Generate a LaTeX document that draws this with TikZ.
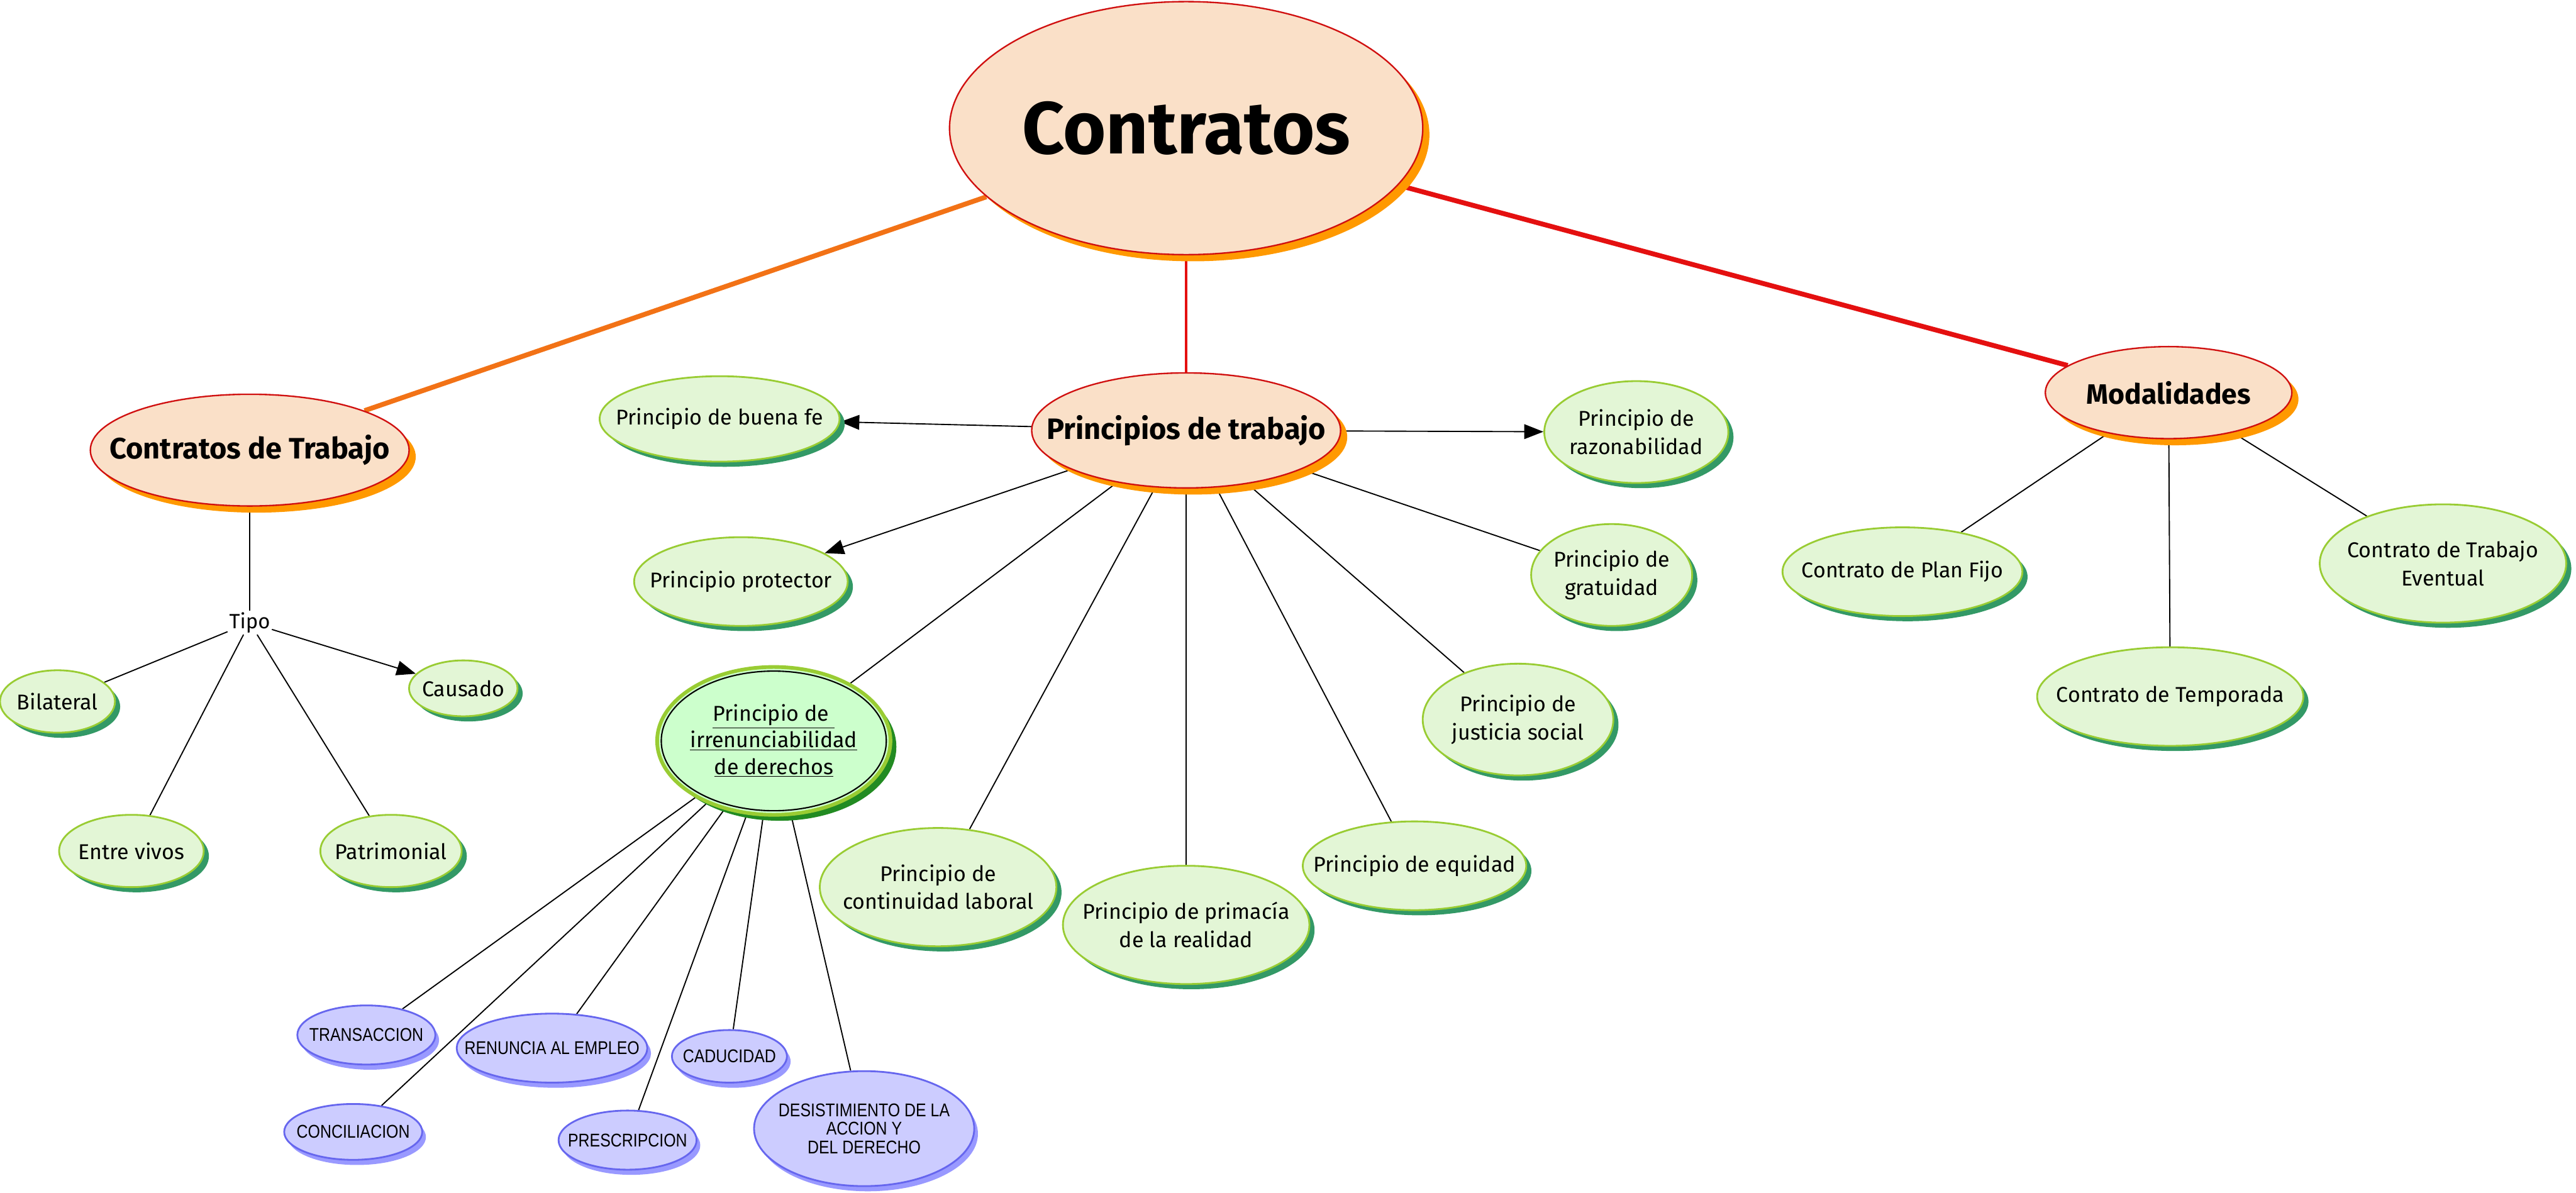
\documentclass[tikz,border=0pt]{standalone}
\usepackage{fontspec}
\setmainfont{Fira Sans}
\newfontfamily\bluefont[FakeStretch=0.85]{Liberation Sans}
\usetikzlibrary{shapes.geometric,shadows,arrows.meta}
\definecolor{peach}{HTML}{FAE0C8}
\definecolor{peachborder}{HTML}{D01010}
\definecolor{orangeshadow}{HTML}{FF9900}
\definecolor{orangelink}{HTML}{F27216}
\definecolor{redlink}{HTML}{E41010}
\definecolor{greenfill}{HTML}{E3F6D6}
\definecolor{greenborder}{HTML}{99CC33}
\definecolor{greenshadow}{HTML}{339966}
\definecolor{irrfill}{HTML}{CCFFCC}
\definecolor{irrshadow}{HTML}{228B22}
\definecolor{bluefill}{HTML}{CCCCFF}
\definecolor{blueborder}{HTML}{6666EE}
\definecolor{blueshadow}{HTML}{9999FF}
\pgfdeclarelayer{bg}
\pgfsetlayers{bg,main}
\tikzset{
  sz/.style 2 args={minimum width=#1*0.07832cm, minimum height=#2*0.07832cm},
  base/.style={ellipse, inner sep=-300pt, align=center},
  peachnode/.style={base, fill=peach, draw=peachborder, line width=1pt,
    drop shadow={shadow xshift=4.5pt, shadow yshift=-4.5pt, fill=orangeshadow, opacity=1}},
  greennode/.style={base, fill=greenfill, draw=greenborder, line width=1.2pt,
    font=\fontsize{14.5}{19}\selectfont,
    drop shadow={shadow xshift=3.5pt, shadow yshift=-3.5pt, fill=greenshadow, opacity=1}},
  irrnode/.style={base, fill=irrfill, draw=greenborder, line width=2.5pt,
    font=\fontsize{14.5}{18}\selectfont,
    drop shadow={shadow xshift=4pt, shadow yshift=-4pt, fill=irrshadow, opacity=1}},
  bluenode/.style={base, fill=bluefill, draw=blueborder, line width=1.2pt,
    font=\bluefont\fontsize{12.5}{12.5}\selectfont,
    drop shadow={shadow xshift=2.5pt, shadow yshift=-3.5pt, fill=blueshadow, opacity=1}},
  link/.style={black, line width=0.8pt},
  arrowlink/.style={link, -{Triangle[length=13pt,width=10pt]}},
  labelnode/.style={inner sep=1pt, font=\fontsize{14}{16}\selectfont},
}
\begin{document}
\begin{tikzpicture}[x=0.03916cm, y=-0.03916cm]
\useasboundingbox (0,0) rectangle (1568,726);

% peach nodes
\node[peachnode, sz={144}{77}, font=\fontsize{50}{60}\selectfont\bfseries] (main) at (722,78) {Contratos};
\node[peachnode, sz={97}{34}, font=\fontsize{20}{24}\selectfont\bfseries] (ct) at (152,274) {Contratos de Trabajo};
\node[peachnode, sz={94}{35}, font=\fontsize{20}{24}\selectfont\bfseries] (pt) at (722,262) {Principios de trabajo};
\node[peachnode, sz={75}{28}, font=\fontsize{19}{23}\selectfont\bfseries] (mod) at (1320,239) {Modalidades};

% Tipo
\node[labelnode] (tipo) at (152,379) {Tipo};
\node[greennode, sz={35}{19}] (bil) at (35,427) {Bilateral};
\node[greennode, sz={33}{17}] (cau) at (282,419) {Causado};
\node[greennode, sz={44}{22}] (ev) at (80,518) {Entre vivos};
\node[greennode, sz={43}{22}] (pat) at (238,518) {Patrimonial};

% principios
\node[greennode, sz={73}{26}] (bf) at (438,255) {Principio de buena fe};
\node[greennode, sz={56}{31}] (raz) at (996,263) {Principio de\\razonabilidad};
\node[greennode, sz={65}{27}] (prot) at (451,354) {Principio protector};
\node[greennode, sz={49}{31}] (grat) at (981,350) {Principio de\\gratuidad};
\node[greennode, sz={58}{34}] (just) at (924,438) {Principio de\\justicia social};
\node[greennode, sz={72}{36}] (cont) at (571,540) {Principio de\\continuidad laboral};
\node[greennode, sz={75}{36}] (prim) at (722,563) {Principio de primacía\\de la realidad};
\node[greennode, sz={68}{27}] (equ) at (861,527) {Principio de equidad};

% irrenunciabilidad
\node[irrnode, sz={71}{45}] (irr) at (471,451)
  {\underline{Principio de\ }\\\underline{irrenunciabilidad}\\\underline{de derechos}};
\draw[black, line width=0.9pt] (irr.center) ellipse (68.5 and 42.5);

% modalidades
\node[greennode, sz={73}{27}] (pf) at (1158,348) {Contrato de Plan Fijo};
\node[greennode, sz={75}{36}] (eve) at (1487,343) {Contrato de Trabajo\\Eventual};
\node[greennode, sz={81}{30}] (temp) at (1321,424) {Contrato de Temporada};

% blue nodes
\node[bluenode, sz={42}{18}] (tra) at (223,630) {TRANSACCION};
\node[bluenode, sz={58}{21}] (ren) at (336,638) {RENUNCIA AL EMPLEO};
\node[bluenode, sz={35}{16}] (cad) at (444,643) {CADUCIDAD};
\node[bluenode, sz={42}{17}] (con) at (215,689) {CONCILIACION};
\node[bluenode, sz={42}{18}] (pre) at (382,694) {PRESCRIPCION};
\node[bluenode, sz={67}{35}] (des) at (526,687) {DESISTIMIENTO DE LA\\ACCION Y\\DEL DERECHO};

\begin{pgfonlayer}{bg}
\draw[orangelink, line width=3.3pt] (main) -- (ct);
\draw[redlink, line width=2pt] (main) -- (pt);
\draw[redlink, line width=3.3pt] (main) -- (mod);

\draw[link] (ct) -- (tipo);
\draw[link] (tipo) -- (bil);
\draw[link] (tipo) -- (ev);
\draw[link] (tipo) -- (pat);
\draw[arrowlink] (tipo) -- (cau);

\draw[arrowlink] (pt) -- (bf);
\draw[arrowlink] (pt) -- (raz);
\draw[arrowlink] (pt) -- (prot);
\draw[link] (pt) -- (grat);
\draw[link] (pt) -- (just);
\draw[link] (pt) -- (irr);
\draw[link] (pt) -- (cont);
\draw[link] (pt) -- (prim);
\draw[link] (pt) -- (equ);

\draw[link] (mod) -- (pf);
\draw[link] (mod) -- (temp);
\draw[link] (mod) -- (eve);

\draw[link] (irr) -- (tra);
\draw[link] (irr) -- (con);
\draw[link] (irr) -- (ren);
\draw[link] (irr) -- (pre);
\draw[link] (irr) -- (cad);
\draw[link] (irr) -- (des);
\end{pgfonlayer}
\end{tikzpicture}
\end{document}
